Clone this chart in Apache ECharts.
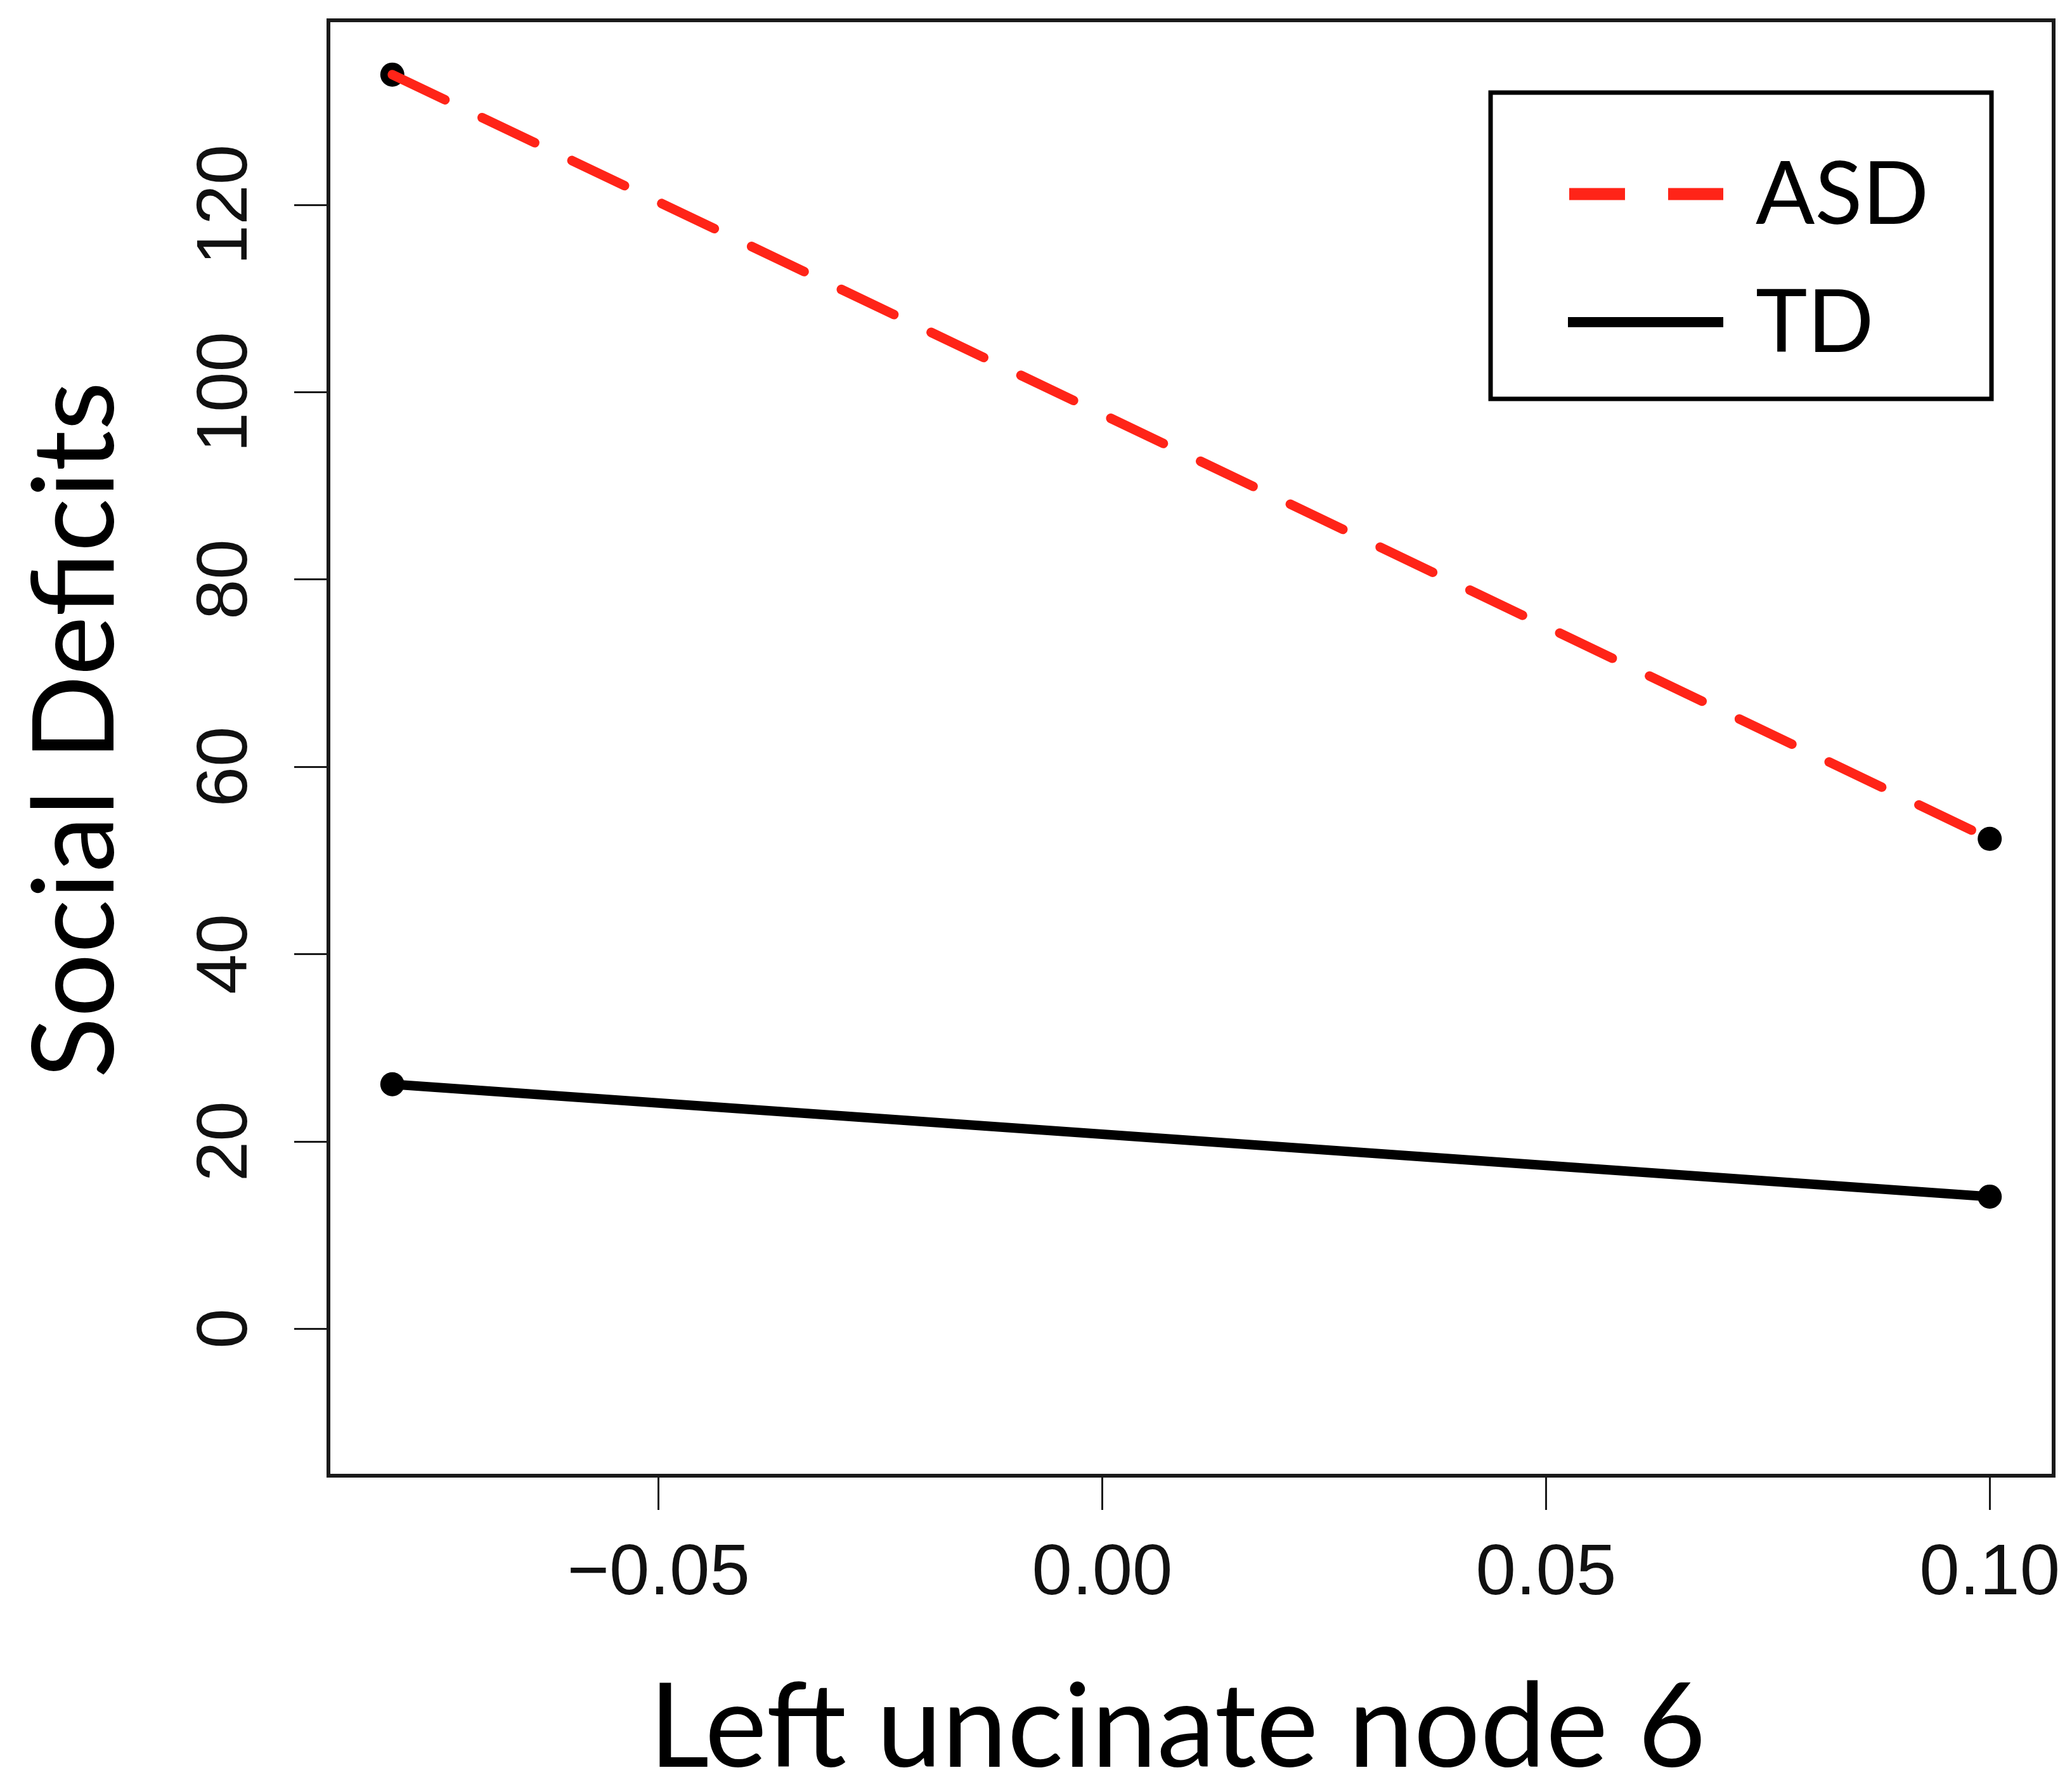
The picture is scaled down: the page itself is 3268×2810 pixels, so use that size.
<!DOCTYPE html>
<html>
<head>
<meta charset="utf-8">
<title>Social Deficits vs Left uncinate node 6</title>
<script src="https://cdn.jsdelivr.net/npm/echarts@6/dist/echarts.min.js"></script>
<style>
  html, body { margin: 0; padding: 0; background: #fff; }
  #main { width: 3268px; height: 2810px; }
</style>
</head>
<body>
<div id="main"></div>
<script>
// data
const seriesNames = ['ASD', 'TD'];
const xPoints = [-0.08, 0.10];
const asdValues = [133.9, 52.3];
const tdValues = [26.1, 14.1];
const xTicks = [-0.05, 0, 0.05, 0.10];
const yTicks = [0, 20, 40, 60, 80, 100, 120];
const xTitle = 'Left uncinate node 6';
const yTitle = 'Social Deficits';

const RED = '#ff2418';
const INK = '#1a1a1a';
const titleFont = 'Lato, "Open Sans", sans-serif';
const tickFont = '"Liberation Sans", Arial, sans-serif';

function pairs(ys) {
  return xPoints.map(function (x, i) { return [x, ys[i]]; });
}

const chart = echarts.init(document.getElementById('main'), null, { renderer: 'canvas' });

const option = {
  backgroundColor: '#fff',
  animation: false,
  grid: {
    left: 518, top: 32, right: 29, bottom: 483,
    show: true, borderColor: INK, borderWidth: 6, backgroundColor: 'transparent'
  },
  xAxis: {
    type: 'value',
    min: -0.0872, max: 0.1072,
    axisLine: { show: false, onZero: false },
    splitLine: { show: false },
    axisTick: { show: true, length: 54, lineStyle: { color: INK, width: 3 }, customValues: xTicks },
    axisLabel: {
      customValues: xTicks,
      margin: 99,
      fontSize: 114,
      fontFamily: tickFont,
      color: '#111',
      formatter: function (v) {
        const s = Math.abs(v).toFixed(2);
        return v < 0 ? '\u2212' + s : s;
      }
    }
  },
  yAxis: {
    type: 'value',
    min: -15.7, max: 139.7,
    axisLine: { show: false, onZero: false },
    splitLine: { show: false },
    axisTick: { show: true, length: 54, lineStyle: { color: INK, width: 3 }, customValues: yTicks },
    axisLabel: {
      customValues: yTicks,
      rotate: 90,
      margin: 103,
      fontSize: 114,
      fontFamily: tickFont,
      color: '#111'
    }
  },
  series: [
    {
      name: seriesNames[0] + ' points',
      type: 'scatter',
      data: pairs(asdValues),
      symbol: 'circle',
      symbolSize: 38,
      itemStyle: { color: '#000', opacity: 1 },
      z: 1
    },
    {
      name: seriesNames[1] + ' points',
      type: 'scatter',
      data: pairs(tdValues),
      symbol: 'circle',
      symbolSize: 38,
      itemStyle: { color: '#000', opacity: 1 },
      z: 1
    },
    {
      name: seriesNames[0],
      type: 'line',
      data: pairs(asdValues),
      showSymbol: false,
      lineStyle: { color: RED, width: 15, type: [92, 65], cap: 'round' },
      z: 3
    },
    {
      name: seriesNames[1],
      type: 'line',
      data: pairs(tdValues),
      showSymbol: false,
      lineStyle: { color: '#000', width: 15, type: 'solid', cap: 'round' },
      z: 3
    }
  ],
  graphic: [
    {
      type: 'text', x: 1857, y: 2726, silent: true,
      style: {
        text: xTitle, font: '185px ' + titleFont, fill: '#000',
        align: 'center', verticalAlign: 'middle', textAlign: 'center', textVerticalAlign: 'middle'
      }
    },
    {
      type: 'text', x: 122, y: 1151, rotation: Math.PI / 2, silent: true,
      style: {
        text: yTitle, font: '178px ' + titleFont, fill: '#000',
        align: 'center', verticalAlign: 'middle', textAlign: 'center', textVerticalAlign: 'middle'
      }
    },
    // legend box
    {
      type: 'rect', silent: true, z: 10,
      shape: { x: 2351, y: 146, width: 790, height: 483 },
      style: { fill: '#fff', stroke: '#000', lineWidth: 7 }
    },
    {
      type: 'line', silent: true, z: 11,
      shape: { x1: 2475, y1: 306, x2: 2718, y2: 306 },
      style: { stroke: RED, lineWidth: 19, lineDash: [88, 68] }
    },
    {
      type: 'line', silent: true, z: 11,
      shape: { x1: 2473, y1: 508, x2: 2718, y2: 508 },
      style: { stroke: '#000', lineWidth: 16 }
    },
    {
      type: 'text', x: 2769, y: 308, silent: true, z: 11,
      style: {
        text: seriesNames[0], font: '138px ' + titleFont, fill: '#000',
        align: 'left', verticalAlign: 'middle', textAlign: 'left', textVerticalAlign: 'middle'
      }
    },
    {
      type: 'text', x: 2769, y: 510, silent: true, z: 11,
      style: {
        text: seriesNames[1], font: '138px ' + titleFont, fill: '#000',
        align: 'left', verticalAlign: 'middle', textAlign: 'left', textVerticalAlign: 'middle'
      }
    }
  ]
};

chart.setOption(option);
</script>
</body>
</html>
